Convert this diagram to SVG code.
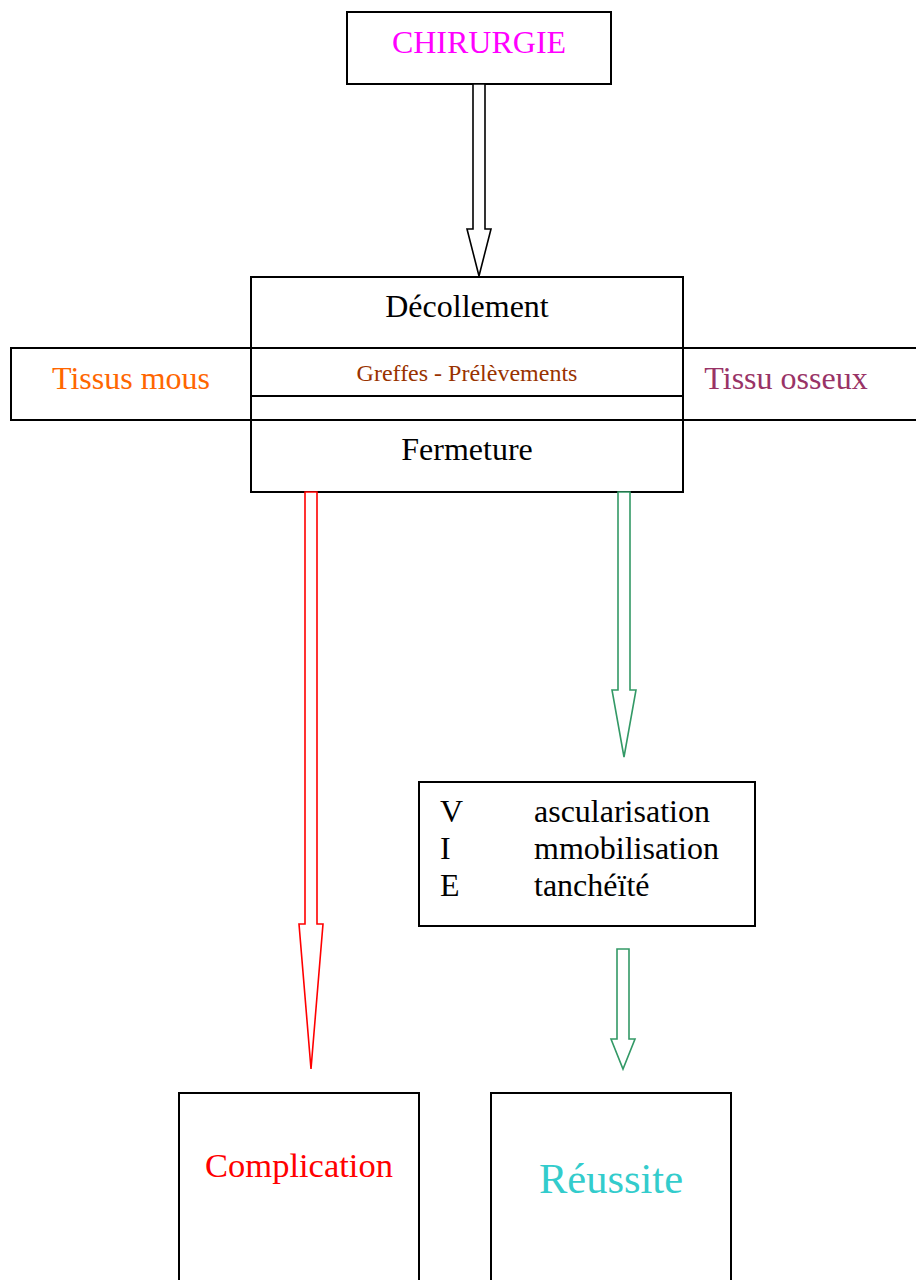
<svg xmlns="http://www.w3.org/2000/svg" width="916" height="1280" viewBox="0 0 916 1280">
<style>
.box{fill:#fff;stroke:#000;stroke-width:2}
.t{font-family:"Liberation Serif","Times New Roman",serif}
.arr{fill:#fff;stroke-width:1.6;stroke-linejoin:miter}
</style>
<rect width="916" height="1280" fill="#fff"/>
<g id="chirurgie">
<rect class="box" x="347" y="12" width="264" height="72"/>
<text class="t" x="479" y="53" font-size="32" fill="#FF00FF" text-anchor="middle">CHIRURGIE</text>
</g>
<g id="bande">
<rect class="box" x="11" y="348" width="910" height="72"/>
<text class="t" x="131" y="389" font-size="32" fill="#FF6600" text-anchor="middle">Tissus mous</text>
<text class="t" x="786" y="389" font-size="32" fill="#993366" text-anchor="middle">Tissu osseux</text>
</g>
<g id="centre">
<rect class="box" x="251" y="277" width="432" height="215"/>
<line x1="251" y1="348" x2="683" y2="348" stroke="#000" stroke-width="2"/>
<line x1="251" y1="396" x2="683" y2="396" stroke="#000" stroke-width="2"/>
<line x1="251" y1="420" x2="683" y2="420" stroke="#000" stroke-width="2"/>
<text class="t" x="467" y="317" font-size="32" fill="#000" text-anchor="middle">Décollement</text>
<text class="t" x="467" y="381" font-size="24" fill="#993300" text-anchor="middle">Greffes - Prélèvements</text>
<text class="t" x="467" y="460" font-size="32" fill="#000" text-anchor="middle">Fermeture</text>
</g>
<g id="vie">
<rect class="box" x="419" y="782" width="336" height="144"/>
<g class="t" font-size="32" fill="#000">
<text x="440" y="822">V</text><text x="534" y="822">ascularisation</text>
<text x="440" y="859">I</text><text x="534" y="859">mmobilisation</text>
<text x="440" y="896">E</text><text x="534" y="896">tanchéïté</text>
</g>
</g>
<g id="complication">
<rect class="box" x="179" y="1093" width="240" height="200"/>
<text class="t" x="299" y="1177" font-size="34.5" fill="#FF0000" text-anchor="middle">Complication</text>
</g>
<g id="reussite">
<rect class="box" x="491" y="1093" width="240" height="200"/>
<text class="t" x="611" y="1193" font-size="42.5" fill="#33CCCC" text-anchor="middle">Réussite</text>
</g>
<g id="connectors">
<polygon class="arr" stroke="#000" points="473,84 485,84 485,229 491,229 479,276 467,229 473,229"/>
<polygon class="arr" stroke="#FF0000" points="305,492 317,492 317,924 323,924 311,1069 299,924 305,924"/>
<polygon class="arr" stroke="#339966" points="618,492 630,492 630,690 636,690 624,757 612,690 618,690"/>
<polygon class="arr" stroke="#339966" points="617,949 629,949 629,1039 635,1039 623,1069 611,1039 617,1039"/>
</g>
</svg>
